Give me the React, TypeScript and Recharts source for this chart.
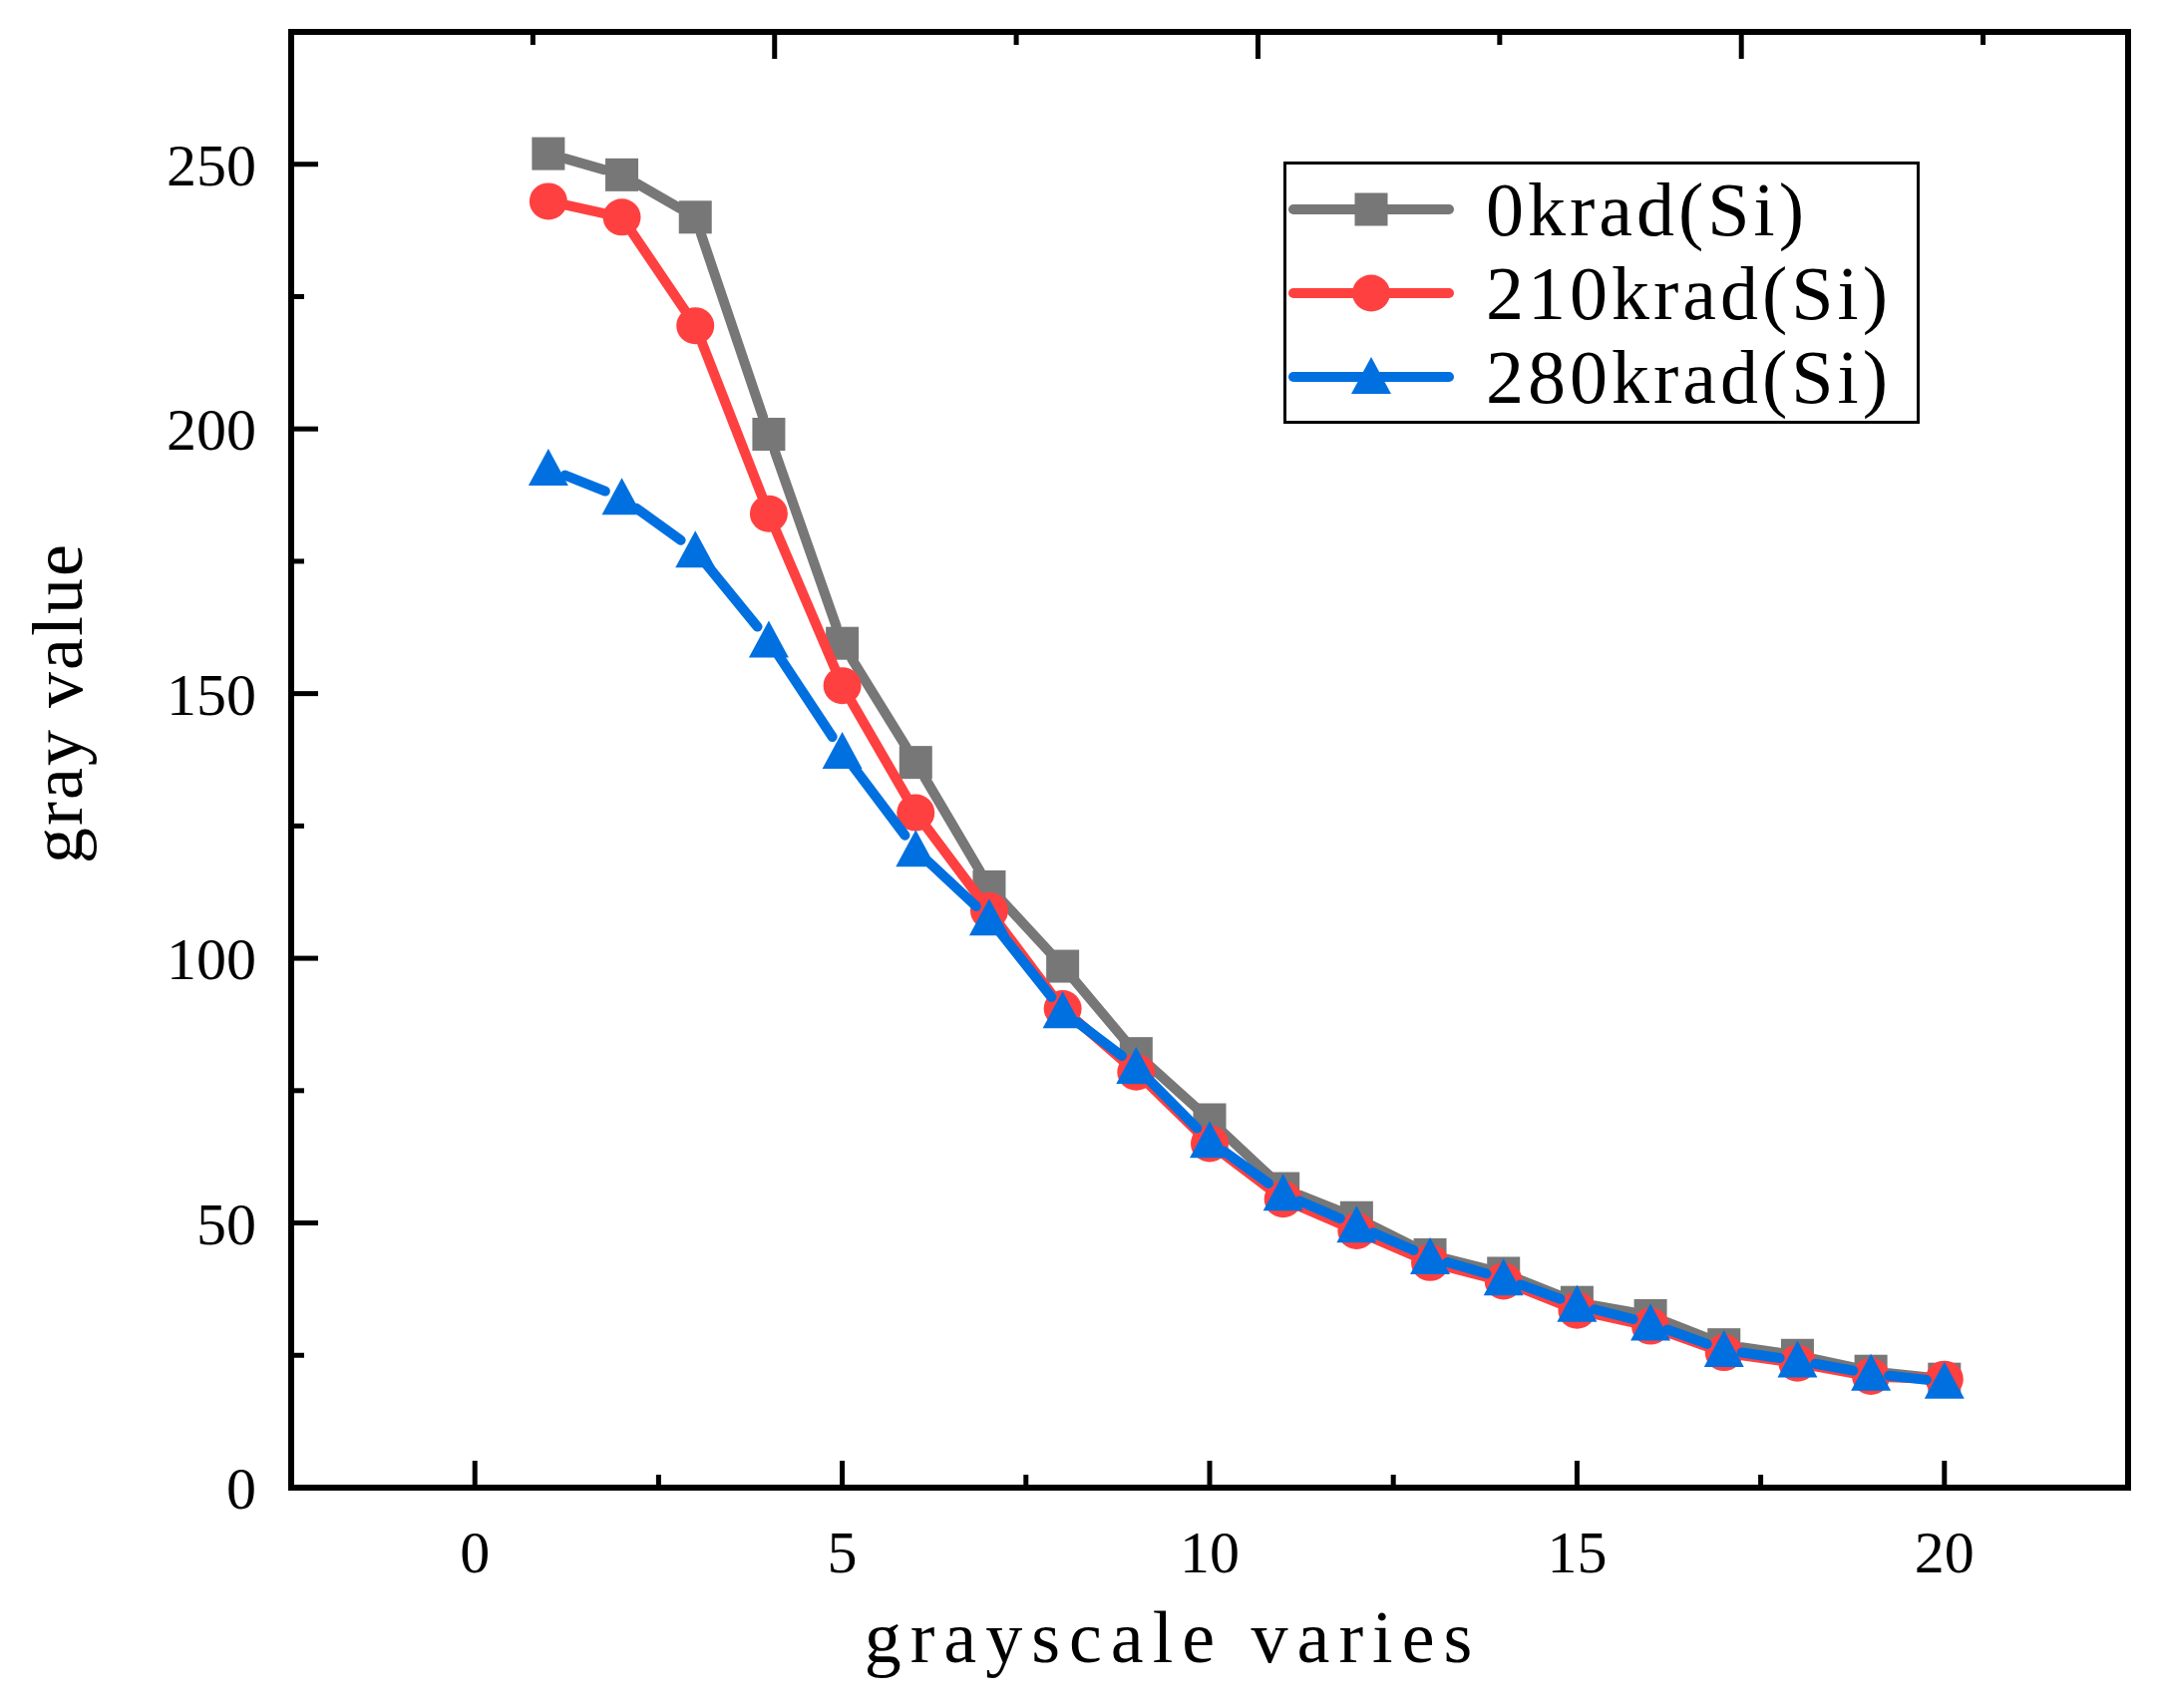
import { LineChart, Line, XAxis, YAxis, Legend, Label } from 'recharts';

// grayscale step on the x axis
const grayscale = [1, 2, 3, 4, 5, 6, 7, 8, 9, 10, 11, 12, 13, 14, 15, 16, 17, 18, 19, 20];

// gray value for each irradiation dose
const dose0 = [252, 248, 240, 199, 159.5, 137, 113.5, 98.5, 82, 69.5, 56.5, 51, 44, 40.5, 35, 32.5, 27, 25, 22, 20.5];
const dose210 = [243, 240, 219.5, 184, 151.5, 127.5, 109, 90.5, 78.5, 65, 54.5, 48.5, 42.5, 39, 33.5, 30.5, 25.5, 23.5, 21, 20.5];
const dose280 = [192.5, 187, 177, 160, 139, 120.5, 107.5, 90, 79.5, 65.5, 55.5, 49.5, 43.5, 39.5, 34.5, 31, 26, 24, 21.5, 20];

const seriesNames = ['0krad(Si)', '210krad(Si)', '280krad(Si)'];
const xTicks = [0, 2.5, 5, 7.5, 10, 12.5, 15, 17.5, 20];
const yTicks = [0, 25, 50, 75, 100, 125, 150, 175, 200, 225, 250];

const data = grayscale.map((x, i) => ({ x, d0: dose0[i], d210: dose210[i], d280: dose280[i] }));

const FONT = '"Liberation Serif", "Times New Roman", serif';
const GRAY = '#777777';
const RED = '#FF4040';
const BLUE = '#0070E0';
const LINE_W = 10;
const GAP = 18; // Origin style gap between line and symbol

type Shape = 'square' | 'circle' | 'triangle';

const Marker = ({ cx, cy, shape, color }: { cx: number; cy: number; shape: Shape; color: string }) => {
  if (shape === 'square') return <rect x={cx - 16.5} y={cy - 16.5} width={33} height={33} fill={color} />;
  if (shape === 'circle') return <ellipse cx={cx} cy={cy} rx={19} ry={18.5} fill={color} />;
  return <polygon points={`${cx},${cy - 20} ${cx - 20},${cy + 17} ${cx + 20},${cy + 17}`} fill={color} />;
};

// first dot also draws the connecting segments, cut short around each symbol
const makeDot = (shape: Shape, color: string) => (props: any) => {
  const { cx, cy, index, points } = props;
  let segs: any = null;
  if (index === 0 && Array.isArray(points)) {
    segs = points.slice(1).map((p: any, i: number) => {
      const a = points[i];
      const dx = p.x - a.x;
      const dy = p.y - a.y;
      const len = Math.hypot(dx, dy);
      if (len <= GAP * 2 + 2) return null;
      const ux = dx / len;
      const uy = dy / len;
      return (
        <line
          key={i}
          x1={a.x + ux * GAP}
          y1={a.y + uy * GAP}
          x2={p.x - ux * GAP}
          y2={p.y - uy * GAP}
          stroke={color}
          strokeWidth={LINE_W}
          strokeLinecap="round"
        />
      );
    });
  }
  return (
    <g key={`${shape}-${index}`}>
      {segs}
      <Marker cx={cx} cy={cy} shape={shape} color={color} />
    </g>
  );
};

const shapes: Record<string, Shape> = { d0: 'square', d210: 'circle', d280: 'triangle' };
const colors: Record<string, string> = { d0: GRAY, d210: RED, d280: BLUE };

const BottomTick = ({ x, y, payload }: any) => {
  const major = payload.value % 5 === 0;
  return (
    <g>
      <line x1={x} x2={x} y1={y} y2={y - (major ? 27 : 13)} stroke="#000" strokeWidth={5} />
      {major && (
        <text x={x} y={y + 85} textAnchor="middle" fontFamily={FONT} fontSize={60} fill="#000">
          {payload.value}
        </text>
      )}
    </g>
  );
};

const TopTick = ({ x, y, payload }: any) => {
  const major = payload.value % 5 === 0;
  return <line x1={x} x2={x} y1={y} y2={y + (major ? 27 : 13)} stroke="#000" strokeWidth={5} />;
};

const LeftTick = ({ x, y, payload }: any) => {
  const major = payload.value % 50 === 0;
  return (
    <g>
      <line x1={x} x2={x + (major ? 27 : 13)} y1={y} y2={y} stroke="#000" strokeWidth={5} />
      {major && (
        <text x={x - 35} y={y} dy={21} textAnchor="end" fontFamily={FONT} fontSize={60} fill="#000">
          {payload.value}
        </text>
      )}
    </g>
  );
};

const RightTick = ({ x, y, payload }: any) => {
  const major = payload.value % 50 === 0;
  return <line x1={x} x2={x - (major ? 27 : 13)} y1={y} y2={y} stroke="#000" strokeWidth={5} />;
};

const LegendBox = ({ payload }: any) => (
  <div
    style={{
      boxSizing: 'border-box',
      width: 638,
      height: 263,
      border: '3px solid #000',
      background: '#fff',
      paddingTop: 3,
    }}
  >
    {(payload || []).map((entry: any) => (
      <div key={entry.value} style={{ display: 'flex', alignItems: 'center', height: 84 }}>
        <svg width={200} height={84} style={{ flex: 'none' }}>
          <line x1={7} x2={163} y1={42} y2={42} stroke={colors[entry.dataKey]} strokeWidth={LINE_W} strokeLinecap="round" />
          <Marker cx={85} cy={42} shape={shapes[entry.dataKey]} color={colors[entry.dataKey]} />
        </svg>
        <span style={{ fontFamily: FONT, fontSize: 76, lineHeight: '84px', letterSpacing: 4, color: '#000', whiteSpace: 'nowrap' }}>
          {entry.value}
        </span>
      </div>
    ))}
  </div>
);

const axisLine = { stroke: '#000', strokeWidth: 6, strokeLinecap: 'square' as const };

export default function App() {
  return (
    <LineChart width={2148} height={1697} data={data} margin={{ top: 23, right: 21, bottom: 113, left: 84 }}>
      <XAxis
        dataKey="x"
        type="number"
        domain={[-2.5, 22.5]}
        ticks={xTicks}
        interval={0}
        height={100}
        tickSize={0}
        tickMargin={0}
        tickLine={false}
        axisLine={axisLine}
        tick={<BottomTick />}
      >
        <Label
          content={({ viewBox }: any) => (
            <text
              x={viewBox.x + viewBox.width / 2 - 37}
              y={viewBox.y + 175}
              textAnchor="middle"
              fontFamily={FONT}
              fontSize={74}
              letterSpacing={9}
              fill="#000"
            >
              grayscale varies
            </text>
          )}
        />
      </XAxis>
      <XAxis
        xAxisId="top"
        orientation="top"
        type="number"
        domain={[-2.5, 22.5]}
        ticks={xTicks}
        interval={0}
        height={1}
        tickSize={0}
        tickMargin={0}
        tickLine={false}
        axisLine={axisLine}
        tick={<TopTick />}
      />
      <YAxis
        type="number"
        domain={[0, 275]}
        ticks={yTicks}
        interval={0}
        width={200}
        tickSize={0}
        tickMargin={0}
        tickLine={false}
        axisLine={axisLine}
        tick={<LeftTick />}
      >
        <Label
          content={({ viewBox }: any) => {
            const lx = viewBox.x - 10;
            const ly = 697;
            return (
              <text
                x={lx}
                y={ly}
                transform={`rotate(-90, ${lx}, ${ly})`}
                textAnchor="middle"
                fontFamily={FONT}
                fontSize={72}
                letterSpacing={2}
                fill="#000"
              >
                gray value
              </text>
            );
          }}
        />
      </YAxis>
      <YAxis
        yAxisId="right"
        orientation="right"
        type="number"
        domain={[0, 275]}
        ticks={yTicks}
        interval={0}
        width={1}
        tickSize={0}
        tickMargin={0}
        tickLine={false}
        axisLine={axisLine}
        tick={<RightTick />}
      />
      <Legend
        layout="vertical"
        align="center"
        verticalAlign="middle"
        content={<LegendBox />}
        wrapperStyle={{ left: 1279, top: 154, width: 638, height: 263 }}
      />
      <Line
        dataKey="d0"
        name={seriesNames[0]}
        stroke="none"
        dot={makeDot('square', GRAY)}
        activeDot={false}
        isAnimationActive={false}
      />
      <Line
        dataKey="d210"
        name={seriesNames[1]}
        stroke="none"
        dot={makeDot('circle', RED)}
        activeDot={false}
        isAnimationActive={false}
      />
      <Line
        dataKey="d280"
        name={seriesNames[2]}
        stroke="none"
        dot={makeDot('triangle', BLUE)}
        activeDot={false}
        isAnimationActive={false}
      />
    </LineChart>
  );
}
